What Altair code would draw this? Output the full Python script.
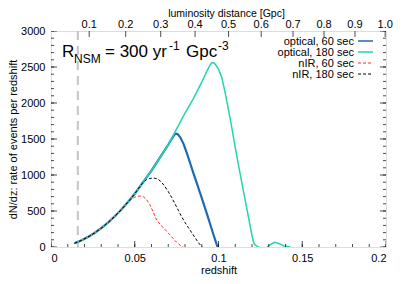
import altair as alt
import pandas as pd

# ---- data ----
common_z = [0.014, 0.018, 0.022, 0.026, 0.030, 0.034, 0.038, 0.042, 0.046]
common_v = [52, 90, 138, 195, 262, 338, 425, 520, 625]

opt180_z = common_z + [0.050, 0.055, 0.060, 0.065, 0.070, 0.075, 0.080, 0.085, 0.090, 0.093,
                       0.095, 0.096, 0.097, 0.098, 0.100, 0.102, 0.104, 0.106, 0.108, 0.110,
                       0.112, 0.114, 0.116, 0.118, 0.120, 0.121, 0.122, 0.1235, 0.1245]
opt180_v = common_v + [740, 900, 1060, 1240, 1420, 1640, 1860, 2060, 2290, 2440,
                       2530, 2560, 2560, 2540, 2470, 2350, 2140, 1900, 1650, 1380,
                       1130, 885, 640, 400, 160, 60, 25, 5, 0]
bump_z = [0.129, 0.131, 0.1335, 0.136, 0.139, 0.143]
bump_v = [0, 35, 65, 50, 15, 0]

opt60_z = common_z + [0.050, 0.055, 0.060, 0.065, 0.070, 0.072, 0.0735, 0.0745, 0.0755, 0.077,
                      0.079, 0.081, 0.083, 0.085, 0.087, 0.089, 0.091, 0.093, 0.095, 0.097,
                      0.099, 0.0995]
opt60_v = common_v + [740, 900, 1060, 1240, 1420, 1500, 1555, 1575, 1570, 1530,
                      1440, 1310, 1170, 1025, 890, 750, 610, 468, 320, 170,
                      30, 0]

nir60_z = common_z + [0.048, 0.050, 0.052, 0.0535, 0.055, 0.057, 0.059, 0.061, 0.063, 0.065,
                      0.067, 0.069, 0.071, 0.073, 0.075, 0.077, 0.078, 0.079]
nir60_v = common_v + [665, 692, 706, 708, 700, 660, 590, 490, 375, 320,
                      270, 220, 170, 115, 65, 25, 5, 0]

nir180_z = common_z + [0.050, 0.055, 0.057, 0.059, 0.0605, 0.062, 0.064, 0.066, 0.068, 0.070,
                       0.072, 0.074, 0.076, 0.078, 0.080, 0.082, 0.084, 0.086, 0.088, 0.090,
                       0.0905]
nir180_v = common_v + [740, 900, 935, 952, 957, 955, 940, 900, 840, 770,
                       690, 600, 510, 420, 340, 270, 200, 130, 60, 5,
                       0]

vline_z = [0.016]

x_ticks = [0, 0.05, 0.1, 0.15, 0.2]
x_minor = [round(i * 0.01, 2) for i in range(21)]
y_ticks = [0, 500, 1000, 1500, 2000, 2500, 3000]
y_minor = list(range(0, 3001, 100))

dist_labels = ["0.1", "0.2", "0.3", "0.4", "0.5", "0.6", "0.7", "0.8", "0.9", "1.0"]
dist_z = [0.0228, 0.0446, 0.0655, 0.086, 0.106, 0.1255, 0.1445, 0.163, 0.1815, 0.1995]

legend_labels = ["optical, 60 sec", "optical, 180 sec", "nIR, 60 sec", "nIR, 180 sec"]

BLUE = "#2168b4"
TEAL = "#22d6b0"
RED = "#ff2a2a"
BLACK = "#000000"
FONT = "Liberation Sans"

W, H = 335, 216
xs = alt.Scale(domain=[0, 0.2], nice=False, zero=False)
ys = alt.Scale(domain=[0, 3000], nice=False)

AX = alt.Axis(values=x_ticks, format="~g", ticks=False, domain=False, grid=False,
              labelPadding=5, titlePadding=1, labelFontSize=11, titleFontSize=11,
              labelFont=FONT, titleFont=FONT, titleFontWeight="normal",
              labelOverlap=False, labelColor="black", titleColor="black")
AY = alt.Axis(values=y_ticks, format="d", ticks=False, domain=False, grid=False,
              labelPadding=6, titlePadding=2, labelFontSize=11, titleFontSize=11,
              labelFont=FONT, titleFont=FONT, titleFontWeight="normal",
              labelOverlap=False, labelColor="black", titleColor="black")
XT = "redshift"
YT = "dN/dz: rate of events per redshift"

def X(f="z:Q"):
    return alt.X(f, scale=xs, axis=AX, title=XT)

def Y(f="v:Q"):
    return alt.Y(f, scale=ys, axis=AY, title=YT)

def df(z, v):
    return pd.DataFrame({"z": z, "v": v})

def line(data, color, width, dash=None):
    kw = dict(color=color, strokeWidth=width, clip=True)
    if dash:
        kw["strokeDash"] = dash
    return alt.Chart(data).mark_line(**kw).encode(x=X(), y=Y())

vline = alt.Chart(pd.DataFrame({"z": vline_z})).mark_rule(
    color="#c4c4c4", strokeWidth=2, strokeDash=[9, 6]).encode(x=X())

# inward ticks (half clipped by the frame)
def xticks(vals, size, yv):
    return alt.Chart(pd.DataFrame({"z": vals})).mark_tick(
        orient="vertical", size=size, thickness=1, color="black", clip=True).encode(
        x=X(), y=alt.value(yv))

def yticks(vals, size, xv):
    return alt.Chart(pd.DataFrame({"v": vals})).mark_tick(
        orient="horizontal", size=size, thickness=1, color="black", clip=True).encode(
        y=Y(), x=alt.value(xv))

ticks = [xticks(x_ticks, 12, H), xticks(x_minor, 6, H),
         xticks(dist_z, 12, 0),
         yticks(y_ticks, 12, 0), yticks(y_minor, 6, 0),
         yticks(y_ticks, 12, W), yticks(y_minor, 6, W)]

top_labels = alt.Chart(pd.DataFrame({"z": dist_z, "t": dist_labels})).mark_text(
    font=FONT, fontSize=11, baseline="alphabetic", align="center", color="black").encode(
    x=X(), y=alt.value(-3.5), text="t:N")

one = pd.DataFrame({"a": [0]})

def txt(s, x, y, size, align="left"):
    return alt.Chart(one).mark_text(text=s, font=FONT, fontSize=size, align=align,
                                    baseline="alphabetic", color="black").encode(
        x=alt.value(x), y=alt.value(y))

top_title = txt("luminosity distance [Gpc]", W / 2 + 8, -14.5, 10.5, "center")

annot = [txt("R", 11, 26, 17), txt("NSM", 23, 31.5, 12), txt("= 300 yr", 54, 26, 17),
         txt("-1", 118, 19, 12), txt("Gpc", 135, 26, 17), txt("-3", 167, 19, 12)]

leg_y = [10, 21, 32, 43]
leg_style = [(BLUE, 1.5, None), (TEAL, 1.5, None), (RED, 1, [3, 2]), (BLACK, 1, [3, 2])]
legend = []
for lab, yy, (c, w, d) in zip(legend_labels, leg_y, leg_style):
    legend.append(txt(lab, 303, yy + 4, 11, "right"))
    kw = dict(color=c, strokeWidth=w)
    if d:
        kw["strokeDash"] = d
    legend.append(alt.Chart(one).mark_rule(**kw).encode(
        x=alt.value(307), x2=alt.value(322), y=alt.value(yy)))

curves = [
    line(df(opt60_z, opt60_v), BLUE, 2.2),
    line(df(opt180_z, opt180_v), TEAL, 1.5),
    line(df(bump_z, bump_v), TEAL, 1.5),
    line(df(nir60_z, nir60_v), RED, 1, [3, 2]),
    line(df(nir180_z, nir180_v), BLACK, 1, [3, 2]),
]

chart = alt.layer(vline, *curves, *ticks, top_labels, top_title, *annot, *legend).properties(
    width=W, height=H,
    autosize=alt.AutoSizeParams(type="none"),
    padding={"left": 43, "top": 23, "right": 13, "bottom": 29},
).configure_view(stroke="black", strokeWidth=1).configure(background="white")

chart.save("out.html", embed_options={"renderer": "svg", "actions": False})
